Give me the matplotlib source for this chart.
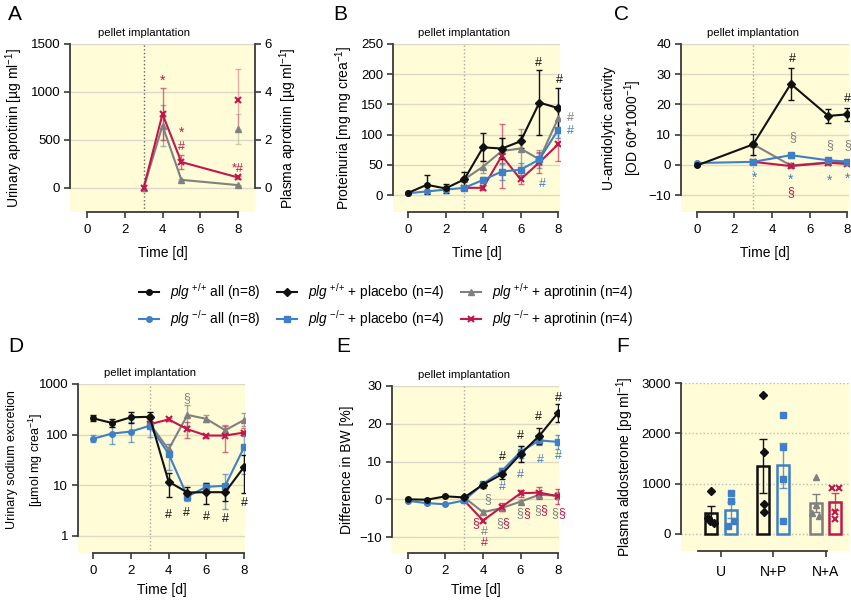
import numpy as np
import matplotlib
matplotlib.use("Agg")
from matplotlib import pyplot as plt
from matplotlib.lines import Line2D
from matplotlib.ticker import NullLocator

plt.rcParams['font.family'] = ['Liberation Sans', 'DejaVu Sans']
plt.rcParams['mathtext.fontset'] = 'custom'
plt.rcParams['mathtext.rm'] = 'Liberation Sans'
plt.rcParams['mathtext.it'] = 'Liberation Sans:italic'
plt.rcParams['mathtext.sf'] = 'Liberation Sans'

# colours
BLACK = '#111111'
BLUE = '#3f7fc6'
GRAY = '#808080'
RED = '#c2174c'
YELLOW = '#fffcd7'
GRID = '#dcdac6'
AX = '#3a3a3a'

# ---- A: aprotinin (urine, left axis; plasma at day 8, right axis) ----
a_days = [3, 4, 5, 8]
a_wt_apr = [0, 650, 85, 30]
a_wt_apr_err = [0, 215, 8, 5]
a_ko_apr = [0, 770, 270, 110]
a_ko_apr_err = [0, 270, 70, 20]
a_plasma_day = 8
a_plasma_wt, a_plasma_wt_err = 2.45, 0.62
a_plasma_ko, a_plasma_ko_err = 3.67, 1.27

# ---- B: proteinuria ----
b_days_all = [0, 1, 2, 3]
b_wt_all = [3.5, 17, 11, 26]
b_wt_all_err = [1, 16, 7, 12]
b_ko_all = [3, 6, 9, 12]
b_ko_all_err = [1, 2, 2, 2]
b_days = [3, 4, 5, 6, 7, 8]
b_wt_pla = [26, 79, 77, 89, 153, 144]
b_wt_pla_err = [12, 23, 18, 11, 54, 33]
b_ko_pla = [12, 25, 39, 42, 59, 108]
b_ko_pla_err = [2, 5, 14, 11, 10, 14]
b_wt_apr = [26, 47, 73, 77, 59, 127]
b_wt_apr_err = [12, 10, 21, 33, 15, 20]
b_ko_apr = [12, 12, 65, 26, 54, 84]
b_ko_apr_err = [2, 4, 53, 8, 18, 27]

# ---- C: urinary amidolytic activity ----
c_days_all = [0, 3]
c_wt_all = [-0.2, 6.8]
c_wt_all_err = [0.3, 3.5]
c_ko_all = [0.6, 1.0]
c_ko_all_err = [0.3, 0.4]
c_days = [3, 5, 7, 8]
c_wt_pla = [6.8, 26.8, 16.2, 16.7]
c_wt_pla_err = [3.5, 5.2, 2.4, 2.2]
c_ko_pla = [1.0, 3.2, 1.5, 1.1]
c_ko_pla_err = [0.4, 0.8, 0.5, 0.4]
c_wt_apr = [6.8, -0.2, 0.8, 1.0]
c_wt_apr_err = [3.5, 0.4, 0.4, 0.3]
c_ko_apr = [1.0, -0.4, 0.7, 0.3]
c_ko_apr_err = [0.4, 0.3, 0.3, 0.3]

# ---- D: urinary sodium excretion (mean, lower, upper) ----
d_days_all = [0, 1, 2, 3]
d_wt_all = [210, 170, 220, 225]
d_wt_all_lo = [185, 140, 170, 180]
d_wt_all_hi = [240, 205, 280, 280]
d_ko_all = [83, 105, 115, 150]
d_ko_all_lo = [70, 65, 72, 88]
d_ko_all_hi = [100, 165, 180, 230]
d_days = [3, 4, 5, 6, 7, 8]
d_wt_pla = [225, 11.8, 7.2, 7.3, 7.3, 23]
d_wt_pla_lo = [225, 5.8, 6.0, 4.2, 4.8, 7.2]
d_wt_pla_hi = [225, 17.5, 9.4, 11, 10, 40]
d_ko_pla = [150, 42, 6.0, 9.3, 9.8, 56]
d_ko_pla_lo = [150, 20, 5.0, 8.0, 3.4, 17]
d_ko_pla_hi = [150, 65, 7.2, 11, 16.5, 100]
d_wt_apr = [165, 51, 245, 205, 122, 195]
d_wt_apr_lo = [165, 40, 150, 175, 100, 150]
d_wt_apr_hi = [165, 65, 390, 245, 155, 265]
d_ko_apr = [160, 200, 128, 96, 96, 110]
d_ko_apr_lo = [160, 185, 85, 85, 45, 95]
d_ko_apr_hi = [160, 215, 175, 105, 150, 135]

# ---- E: difference in body weight ----
e_days_all = [0, 1, 2, 3]
e_wt_all = [0, -0.1, 0.8, 0.5]
e_wt_all_err = [0.3, 0.3, 0.3, 0.3]
e_ko_all = [-0.4, -1.0, -1.3, -0.3]
e_ko_all_err = [0.2, 0.2, 0.3, 0.3]
e_days = [3, 4, 5, 6, 7, 8]
e_wt_pla = [0.5, 3.9, 6.6, 12.0, 16.8, 22.9]
e_wt_pla_err = [0.3, 0.8, 1.3, 2.0, 2.2, 2.3]
e_ko_pla = [-0.3, 4.1, 7.5, 12.6, 15.6, 15.2]
e_ko_pla_err = [0.3, 0.5, 0.8, 1.6, 1.3, 1.8]
e_wt_apr = [0.5, -3.4, -2.3, -0.6, 1.2, 1.0]
e_wt_apr_err = [0.3, 0.6, 0.6, 0.4, 0.8, 0.9]
e_ko_apr = [-0.3, -5.6, -2.0, 1.6, 1.8, 0.8]
e_ko_apr_err = [0.3, 0.5, 1.0, 0.9, 1.6, 2.0]

# ---- F: plasma aldosterone, single animals ----
f_groups = ['U', 'N+P', 'N+A']
f_wt_u = [854, 311, 265, 225]
f_ko_u = [808, 655, 265, 166]
f_wt_pla = [2756, 1636, 590, 437]
f_ko_pla = [2365, 1735, 1093, 258]
f_wt_apr = [1139, 576, 424, 358]
f_ko_apr = [920, 920, 444, 291]
f_jitter = [[0, -0.06, -0.02, 0.06], [0, 0, 0.06, -0.06],
            [0, 0.02, 0.02, 0.02], [0, 0, 0, 0],
            [0, 0, -0.07, 0.07], [-0.06, 0.06, 0, 0]]

W = 851
H = 600
TICK = 9.5
LAB = 10


def rect(l, r, t, b):
    return [l / W, 1 - b / H, (r - l) / W, (b - t) / H]


def style(ax, xlim, ylim, xb, yb, xticks, yticks, grid_ls='-'):
    ax.set_facecolor(YELLOW)
    ax.set_xlim(xlim)
    ax.set_ylim(ylim)
    ax.spines['top'].set_visible(False)
    ax.spines['right'].set_visible(False)
    ax.spines['left'].set_bounds(*yb)
    ax.spines['bottom'].set_bounds(*xb)
    for s in ['left', 'bottom']:
        ax.spines[s].set_linewidth(1.3)
        ax.spines[s].set_color(AX)
    ax.set_xticks(xticks)
    ax.set_yticks(yticks)
    ax.tick_params(direction='out', length=4, width=1.2, color=AX, labelsize=TICK, pad=3)
    ax.tick_params(axis='x', pad=5)
    ax.yaxis.grid(True, color=GRID if grid_ls == '-' else '#bdbdb0', lw=1, ls=grid_ls)
    ax.set_axisbelow(True)


def pellet(ax, color='#a8a8a0'):
    ax.axvline(3, color=color, ls=':', lw=1, zorder=1)
    ax.text(3, 1.065, 'pellet implantation', transform=ax.get_xaxis_transform(),
            ha='center', va='center', fontsize=8.2)


def series(ax, x, y, err, color, marker, first=0, ealpha=1.0):
    mew = 1.5 if marker == 'x' else 1
    ax.plot(x, y, color=color, marker=marker, ms=4.5 if marker == 'x' else 4,
            lw=1.5, mec=color, mew=mew, zorder=3)
    e = np.asarray(err, dtype=float)
    if e.ndim == 2:
        e = e[:, first:]
    else:
        e = e[first:]
    ax.errorbar(np.asarray(x)[first:], np.asarray(y)[first:], yerr=e, fmt='none',
                ecolor=color, elinewidth=1, capsize=2.5, capthick=1, alpha=ealpha, zorder=2)


def asym(y, lo, hi):
    y = np.asarray(y, dtype=float)
    return [y - np.asarray(lo), np.asarray(hi) - y]


def ann(ax, x, y, s, color, size=9):
    ax.text(x, y, s, color=color, ha='center', va='center', fontsize=size, clip_on=False, zorder=5)


def time_label(ax, pad=7):
    ax.set_xlabel('Time [d]', fontsize=LAB, labelpad=pad)


fig = plt.figure(figsize=(W / 100, H / 100), dpi=100)

# ---------------- A ----------------
ax = fig.add_axes(rect(70, 255, 44, 212))
style(ax, (-0.9, 8.9), (-250, 1500), (0, 8), (0, 1500), [0, 2, 4, 6, 8], [0, 500, 1000, 1500])
pellet(ax, '#666666')
series(ax, a_days, a_wt_apr, a_wt_apr_err, GRAY, '^', first=1, ealpha=0.6)
series(ax, a_days, a_ko_apr, a_ko_apr_err, RED, 'x', first=1, ealpha=0.6)
ax.set_ylabel(r'Urinary aprotinin [µg ml$^{-1}$]', fontsize=LAB)
time_label(ax)
ax2 = ax.twinx()
ax2.set_ylim(-1, 6)
ax2.set_yticks([0, 2, 4, 6])
for s in ['top', 'left', 'bottom']:
    ax2.spines[s].set_visible(False)
ax2.spines['right'].set_bounds(0, 6)
ax2.spines['right'].set_linewidth(1.3)
ax2.spines['right'].set_color(AX)
ax2.tick_params(direction='out', length=4, width=1.2, color=AX, labelsize=TICK, pad=3)
ax2.errorbar([a_plasma_day], [a_plasma_wt], yerr=[a_plasma_wt_err], fmt='none',
             ecolor=GRAY, elinewidth=1, capsize=2.5, alpha=0.35)
ax2.errorbar([a_plasma_day], [a_plasma_ko], yerr=[a_plasma_ko_err], fmt='none',
             ecolor=RED, elinewidth=1, capsize=2.5, alpha=0.35)
ax2.plot([a_plasma_day], [a_plasma_wt], marker='^', ms=4, color=GRAY, ls='none')
ax2.plot([a_plasma_day], [a_plasma_ko], marker='x', ms=4.5, mew=1.5, color=RED, ls='none')
ax2.set_ylabel(r'Plasma aprotinin [µg ml$^{-1}$]', fontsize=LAB)
ann(ax, 4, 1120, '*', RED, 10)
ann(ax, 5, 580, '*', RED, 10)
ann(ax, 5, 430, '#', RED)
ann(ax, 8, 200, '*#', RED)

# ---------------- B ----------------
ax = fig.add_axes(rect(393, 560, 44, 212))
style(ax, (-0.8, 8.1), (-28, 250), (0, 8), (0, 250), [0, 2, 4, 6, 8], [0, 50, 100, 150, 200, 250])
pellet(ax)
series(ax, b_days, b_wt_apr, b_wt_apr_err, GRAY, '^', first=1, ealpha=0.7)
series(ax, b_days, b_ko_apr, b_ko_apr_err, RED, 'x', first=1, ealpha=0.6)
series(ax, b_days_all, b_ko_all, b_ko_all_err, BLUE, 'o')
series(ax, b_days, b_ko_pla, b_ko_pla_err, BLUE, 's', first=1, ealpha=0.7)
series(ax, b_days_all, b_wt_all, b_wt_all_err, BLACK, 'o')
series(ax, b_days, b_wt_pla, b_wt_pla_err, BLACK, 'D', first=1)
ax.set_ylabel(r'Proteinuria [mg mg crea$^{-1}$]', fontsize=LAB)
time_label(ax)
ann(ax, 6.93, 219, '#', BLACK)
ann(ax, 8.05, 190, '#', BLACK)
ann(ax, 8.64, 128, '#', GRAY)
ann(ax, 8.64, 106, '#', BLUE)
ann(ax, 7.15, 18, '#', BLUE)

# ---------------- C ----------------
ax = fig.add_axes(rect(681, 849, 44, 212))
style(ax, (-0.85, 8.1), (-15.6, 40), (0, 8), (-10, 40), [0, 2, 4, 6, 8], [-10, 0, 10, 20, 30, 40])
pellet(ax)
series(ax, c_days, c_wt_apr, c_wt_apr_err, GRAY, '^', first=1, ealpha=0.7)
series(ax, c_days, c_ko_apr, c_ko_apr_err, RED, 'x', first=1, ealpha=0.6)
series(ax, c_days_all, c_ko_all, c_ko_all_err, BLUE, 'o')
series(ax, c_days, c_ko_pla, c_ko_pla_err, BLUE, 's', first=1, ealpha=0.7)
series(ax, c_days_all, c_wt_all, c_wt_all_err, BLACK, 'o')
series(ax, c_days, c_wt_pla, c_wt_pla_err, BLACK, 'D', first=1)
ax.set_ylabel('U-amidolytic activity\n' + r'[OD 60*1000$^{-1}$]', fontsize=LAB,
              linespacing=1.45, labelpad=3)
time_label(ax)
ann(ax, 5.1, 35.2, '#', BLACK)
ann(ax, 8.04, 21.8, '#', BLACK)
for x, y in [(5.1, 9.1), (7.06, 6.6), (8.04, 6.6)]:
    ann(ax, x, y, '§', GRAY)
for x, y in [(3.04, -4.2), (5.0, -4.9), (7.06, -5.3), (8.04, -4.7)]:
    ann(ax, x, y, '*', BLUE, 10)
ann(ax, 5.0, -9.0, '§', RED)

# ---------------- D ----------------
ax = fig.add_axes(rect(78, 245, 384, 553))
ax.set_yscale('log')
style(ax, (-0.8, 8.05), (0.46, 1000), (0, 8), (1, 1000), [0, 2, 4, 6, 8], [1, 10, 100, 1000])
ax.yaxis.set_minor_locator(NullLocator())
ax.set_yticklabels(['1', '10', '100', '1000'])
pellet(ax)
series(ax, d_days, d_wt_apr, asym(d_wt_apr, d_wt_apr_lo, d_wt_apr_hi), GRAY, '^', first=1, ealpha=0.7)
series(ax, d_days, d_ko_apr, asym(d_ko_apr, d_ko_apr_lo, d_ko_apr_hi), RED, 'x', first=1, ealpha=0.6)
series(ax, d_days_all, d_ko_all, asym(d_ko_all, d_ko_all_lo, d_ko_all_hi), BLUE, 'o', ealpha=0.7)
series(ax, d_days, d_ko_pla, asym(d_ko_pla, d_ko_pla_lo, d_ko_pla_hi), BLUE, 's', first=1, ealpha=0.7)
series(ax, d_days_all, d_wt_all, asym(d_wt_all, d_wt_all_lo, d_wt_all_hi), BLACK, 'o')
series(ax, d_days, d_wt_pla, asym(d_wt_pla, d_wt_pla_lo, d_wt_pla_hi), BLACK, 'D', first=1)
ax.set_ylabel('Urinary sodium excretion\n' + r'[µmol mg crea$^{-1}$]', fontsize=9,
              linespacing=1.6, labelpad=3)
ax.yaxis.set_label_coords(-0.2, 0.55)
time_label(ax, 4)
for x, y in [(3.98, 2.6), (4.96, 2.8), (5.98, 2.34), (7.0, 2.14), (8.0, 4.4)]:
    ann(ax, x, y, '#', BLACK)
ann(ax, 4.96, 521, '§', GRAY)

# ---------------- E ----------------
ax = fig.add_axes(rect(392, 559, 386, 553))
style(ax, (-0.85, 8.05), (-14.2, 30), (0, 8), (-10, 30), [0, 2, 4, 6, 8], [-10, 0, 10, 20, 30])
pellet(ax)
series(ax, e_days, e_wt_apr, e_wt_apr_err, GRAY, '^', first=1, ealpha=0.7)
series(ax, e_days, e_ko_apr, e_ko_apr_err, RED, 'x', first=1, ealpha=0.7)
series(ax, e_days_all, e_ko_all, e_ko_all_err, BLUE, 'o')
series(ax, e_days, e_ko_pla, e_ko_pla_err, BLUE, 's', first=1, ealpha=0.8)
series(ax, e_days_all, e_wt_all, e_wt_all_err, BLACK, 'o')
series(ax, e_days, e_wt_pla, e_wt_pla_err, BLACK, 'D', first=1)
ax.set_ylabel('Difference in BW [%]', fontsize=LAB)
time_label(ax, 4)
for x, y in [(5.01, 11.1), (5.97, 16.8), (6.95, 21.7), (8.02, 26.7)]:
    ann(ax, x, y, '#', BLACK)
for x, y in [(5.01, 3.3), (6.0, 6.4), (7.04, 10.4), (8.02, 11.5)]:
    ann(ax, x, y, '#', BLUE)
ann(ax, 4.27, 0.0, '§', GRAY)
ann(ax, 3.63, -6.3, '§', RED)
ann(ax, 4.07, -8.6, '#', GRAY)
ann(ax, 4.07, -11.5, '#', RED)
for x, y in [(5.07, -6.2), (6.15, -3.6), (7.07, -2.9), (8.02, -3.6)]:
    ann(ax, x - 0.17, y, '§', GRAY)
    ann(ax, x + 0.17, y, '§', RED)

# ---------------- F ----------------
ax = fig.add_axes(rect(681, 849, 383, 551))
style(ax, (-0.77, 2.45), (-338, 3000), (-0.44, 2.02), (0, 3000), [0, 1, 2],
      [0, 1000, 2000, 3000], grid_ls=':')
ax.set_xticklabels(f_groups, fontsize=LAB)
ax.tick_params(axis='x', pad=6)
f_sets = [f_wt_u, f_ko_u, f_wt_pla, f_ko_pla, f_wt_apr, f_ko_apr]
f_cols = [BLACK, BLUE, BLACK, BLUE, GRAY, RED]
f_marks = ['D', 's', 'D', 's', '^', 'x']
for i, vals in enumerate(f_sets):
    pos = i // 2 + (-0.19 if i % 2 == 0 else 0.19)
    v = np.asarray(vals, dtype=float)
    m = v.mean()
    sem = v.std(ddof=1) / np.sqrt(len(v))
    ax.bar(pos, m, width=0.23, fill=False, edgecolor=f_cols[i], linewidth=1.8, zorder=2)
    ax.errorbar(pos, m, yerr=sem, fmt='none', ecolor=f_cols[i], elinewidth=1,
                capsize=3, alpha=0.8 if i % 2 else 1, zorder=3)
    ax.plot(pos + np.asarray(f_jitter[i]), v, ls='none', marker=f_marks[i],
            ms=4.5, color=f_cols[i], mew=1.5 if f_marks[i] == 'x' else 1, zorder=4)
ax.set_ylabel(r'Plasma aldosterone [pg ml$^{-1}$]', fontsize=LAB)

# ---------------- legend ----------------
handles = [
    Line2D([], [], color=BLACK, marker='o', ms=4, lw=1.5),
    Line2D([], [], color=BLUE, marker='o', ms=4, lw=1.5),
    Line2D([], [], color=BLACK, marker='D', ms=4, lw=1.5),
    Line2D([], [], color=BLUE, marker='s', ms=4, lw=1.5),
    Line2D([], [], color=GRAY, marker='^', ms=4, lw=1.5),
    Line2D([], [], color=RED, marker='x', ms=4.5, mew=1.5, lw=1.5),
]
labels = [
    r'$\mathit{plg}^{\ {+}/{+}}$ all (n=8)',
    r'$\mathit{plg}^{\ {-}/{-}}$ all (n=8)',
    r'$\mathit{plg}^{\ {+}/{+}}$ + placebo (n=4)',
    r'$\mathit{plg}^{\ {-}/{-}}$ + placebo (n=4)',
    r'$\mathit{plg}^{\ {+}/{+}}$ + aprotinin (n=4)',
    r'$\mathit{plg}^{\ {-}/{-}}$ + aprotinin (n=4)',
]
fig.legend(handles, labels, loc='center', bbox_to_anchor=(386 / W, 1 - 305 / H), ncol=3,
           frameon=False, fontsize=9.8, handlelength=1.5, handletextpad=0.8,
           columnspacing=1.2, labelspacing=0.45)

# panel letters
for letter, x, y in [('A', 8, 15), ('B', 333, 15), ('C', 614, 15),
                     ('D', 8, 346), ('E', 336, 346), ('F', 616, 346)]:
    fig.text(x / W, 1 - y / H, letter, fontsize=15, ha='left', va='center')

fig.savefig('out.png', dpi=100)
